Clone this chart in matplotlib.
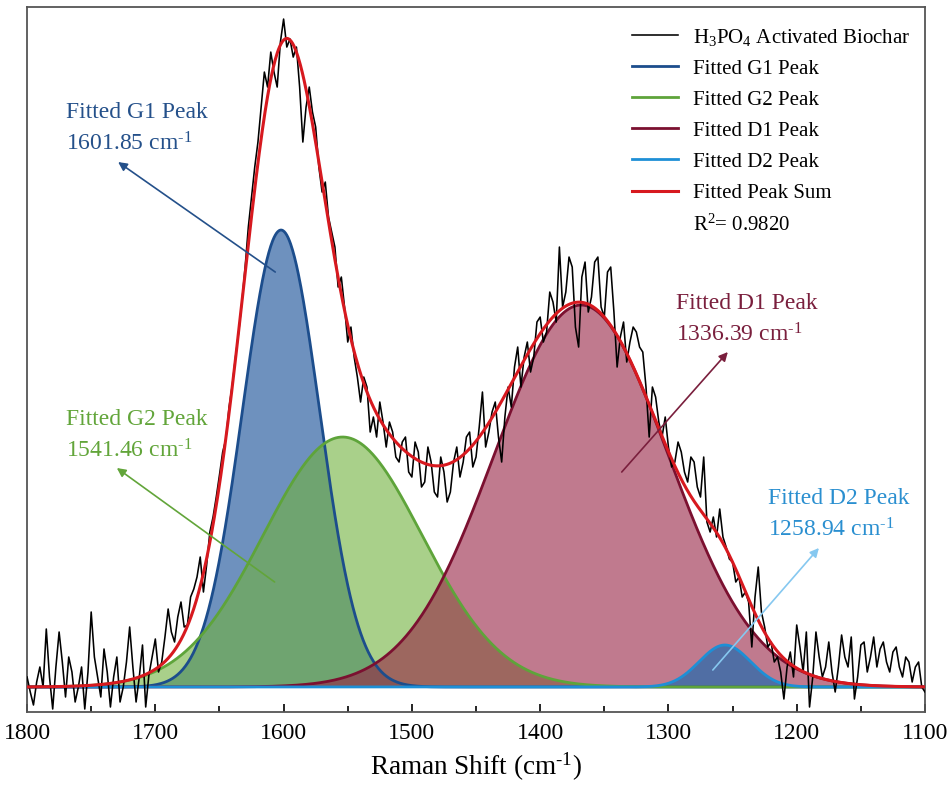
import numpy as np
import matplotlib
matplotlib.use("Agg")
from matplotlib import pyplot as plt
from matplotlib.lines import Line2D

plt.rcParams['font.family'] = ['Liberation Serif', 'DejaVu Serif']
plt.rcParams['mathtext.fontset'] = 'custom'
plt.rcParams['mathtext.rm'] = 'Liberation Serif'
plt.rcParams['mathtext.it'] = 'Liberation Serif:italic'

# measured spectrum: Raman shift 1800 -> 1100 cm-1, every 2.5 cm-1
shift = np.arange(1800, 1099, -2.5)
intensity = [
    10, -5, -18, 5, 20, 0, 58, 10, -22, 20,
    55, 25, -10, 30, 15, -15, 0, 20, -22, 15,
    75, 30, 10, -10, 38, 15, -20, 10, 30, -15,
    0, 25, 60, 20, -15, 10, 42, -20, 12, 30,
    48, 15, 25, 50, 78, 55, 45, 70, 85, 60,
    62, 90, 98, 110, 130, 95, 122, 155, 170, 190,
    212, 235, 248, 280, 302, 330, 355, 385, 420, 460,
    490, 520, 545, 580, 615, 600, 635, 615, 600, 645,
    668, 640, 648, 630, 640, 600, 545, 580, 600, 575,
    560, 520, 495, 505, 470, 455, 440, 400, 410, 380,
    345, 360, 330, 310, 285, 310, 300, 255, 270, 250,
    285, 265, 240, 265, 255, 230, 225, 245, 250, 215,
    210, 245, 235, 200, 205, 240, 225, 195, 190, 230,
    215, 185, 195, 225, 240, 210, 225, 250, 255, 220,
    230, 260, 295, 240, 255, 275, 285, 250, 225, 270,
    300, 280, 320, 340, 300, 330, 345, 315, 330, 365,
    370, 345, 355, 395, 385, 365, 440, 380, 395, 430,
    420, 360, 340, 410, 425, 375, 390, 425, 430, 380,
    370, 415, 420, 375, 320, 350, 365, 325, 345, 360,
    355, 340, 335, 300, 250, 300, 290, 265, 250, 270,
    240, 220, 225, 245, 235, 215, 205, 230, 225, 200,
    190, 230, 165, 155, 170, 150, 178, 150, 140, 128,
    125, 105, 110, 90, 95, 85, 40, 90, 120, 75,
    60, 40, 45, 25, 30, 15, -12, 20, 35, 10,
    62, 40, 15, 55, -20, 10, 55, 30, 10, 20,
    45, 15, -5, 20, 52, 30, 20, 50, -12, 10,
    42, 45, 15, 30, 50, 20, 38, 45, 25, 15,
    35, 40, 20, 10, 30, 25, 5, 20, 25, 0,
    -5]

# fitted gaussian components
peak_names = ['Fitted G1 Peak', 'Fitted G2 Peak', 'Fitted D1 Peak', 'Fitted D2 Peak']
peak_center = [1602, 1554, 1368, 1256]
peak_height = [457, 250, 382, 42]
peak_sigma = [30, 62, 68, 20]
peak_labels = ['1601.85', '1541.46', '1336.39', '1258.94']
r_squared = '0.9820'

line_colors = ['#1c4d8c', '#5ea43a', '#7b1030', '#1e8fd6']
fill_colors = ['#0d4893', '#71b13c', '#962143', '#0566b4']
text_colors = ['#24508a', '#62a53a', '#7a1f3d', '#2a8fd0']
arrow_colors = ['#24508a', '#62a53a', '#7a1f3d', '#86c8f0']

x_fit = np.linspace(1800, 1100, 1401)
comps = [h * np.exp(-(x_fit - c) ** 2 / (2 * s ** 2))
         for c, h, s in zip(peak_center, peak_height, peak_sigma)]
total = np.sum(comps, axis=0)

fig = plt.figure(figsize=(9.49, 7.85), dpi=100)
ax = fig.add_axes([0.0285, 0.093, 0.9462, 0.898])

handles = []
h_raw, = ax.plot(shift, intensity, color='black', lw=1.15, zorder=5,
                 label='H$_3$PO$_4$ Activated Biochar')
handles.append(h_raw)
for comp, fc in zip(comps, fill_colors):
    ax.fill_between(x_fit, 0, comp, color=fc, alpha=0.6, lw=0, zorder=2)
for comp, lc, name in zip(comps, line_colors, peak_names):
    h, = ax.plot(x_fit, comp, color=lc, lw=2.0, zorder=3, label=name)
    handles.append(h)
h_sum, = ax.plot(x_fit, total, color='#d7191f', lw=2.2, zorder=6, label='Fitted Peak Sum')
handles.append(h_sum)
handles.append(Line2D([], [], color='none', label='R$^2$= ' + r_squared))

ax.legend(handles=handles, loc='upper right', bbox_to_anchor=(0.997, 0.99), frameon=False,
          fontsize=15, handlelength=2.2, handletextpad=0.7, labelspacing=0.55,
          borderaxespad=0.2)

# annotations (tail at peak area, arrow pointing to label)
tails = [(1606.5, 415), (1607, 105), (1336.4, 215), (1265.4, 17)]
tips = [(1729, 525), (1730, 219), (1253.7, 335), (1182.7, 139)]
text_pos = [(1769.6, 585), (1770, 278), (1294.3, 394), (1222.5, 199)]
for i in range(4):
    ax.annotate('', xy=tips[i], xytext=tails[i], zorder=7,
                arrowprops=dict(arrowstyle='-|>', color=arrow_colors[i], lw=1.2,
                                mutation_scale=13, shrinkA=0, shrinkB=0))
    ax.text(text_pos[i][0], text_pos[i][1],
            peak_names[i] + '\n' + peak_labels[i] + ' cm$^{\u2010 1}$',
            color=text_colors[i], fontsize=17, va='top', ha='left',
            linespacing=1.5, zorder=8)

ax.set_xlim(1800, 1100)
ax.set_ylim(-25, 680)
ax.set_xticks([1800, 1700, 1600, 1500, 1400, 1300, 1200, 1100])
ax.set_xticks(np.arange(1750, 1100, -100), minor=True)
ax.set_yticks([])
ax.tick_params(axis='x', which='major', direction='in', length=6, width=1.2,
               labelsize=17, pad=8)
ax.tick_params(axis='x', which='minor', direction='in', length=4, width=1.2)
for sp in ax.spines.values():
    sp.set_color('#555555')
    sp.set_linewidth(1.3)
ax.set_xlabel('Raman Shift (cm$^{\u2010 1}$)', fontsize=19.5, labelpad=5)

fig.savefig('out.png', dpi=100)
